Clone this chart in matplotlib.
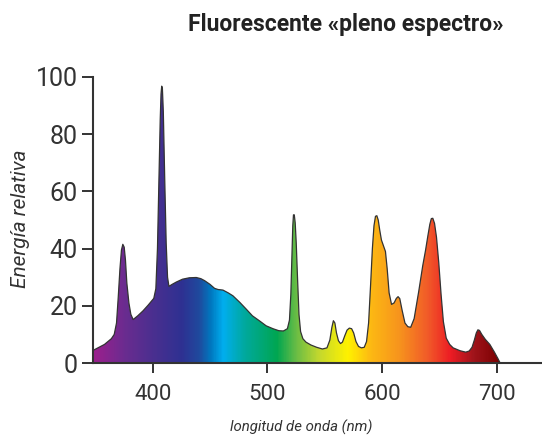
import matplotlib
matplotlib.use("Agg")
import matplotlib.pyplot as plt
import numpy as np
from matplotlib.colors import LinearSegmentedColormap

# spectrum (nm, relative energy)
wavelength = [348, 358, 364, 366.5, 368.5, 370, 371.5, 372.8, 374, 375.2, 376.3, 377.5,
              379.3, 381, 383, 387, 391.5, 396, 401, 402.8, 404.2, 405.5, 406.6, 407.3,
              407.9, 408.5, 409.3, 410.5, 411.8, 413, 414.2, 417, 420.6, 426, 432, 438,
              442, 445.3, 450, 454, 457, 461.3, 466, 470, 476, 481.7, 487, 493.3,
              499, 504.9, 510, 514, 517.5, 519.3, 520.5, 521.5, 522.2, 522.8, 523.5, 524.3,
              525.2, 526.3, 527.6, 529, 531, 533.7, 538, 543, 548, 552, 554.5, 556.3,
              557.6, 558.9, 560.3, 562, 563.8, 565.5, 567.5, 569.5, 571.5, 573.5, 575.3, 577.3,
              579.5, 582, 584.5, 586.5, 588.3, 590, 591.6, 593, 594.3, 595.5, 596.7, 598,
              599.5, 601, 603, 604.5, 606.2, 608.3, 610.5, 612.5, 614, 615.5, 617.5, 620,
              622.5, 625, 628, 632, 635.5, 638, 640, 641.7, 643, 644.3, 645.8, 647.5,
              649.5, 651.5, 653.5, 656, 659, 662, 668, 673, 676, 678.5, 680.5, 682.2,
              683.6, 685, 687, 690, 694, 698, 701, 703]
energy = [4.4, 6.5, 8.5, 10, 14, 23, 33, 39.5, 41.5, 40.5, 36, 28,
          21, 17, 15.2, 16.5, 18.2, 20.2, 22.6, 26, 40, 65, 85, 94,
          96.8, 96, 88, 65, 42, 30, 26.8, 27.5, 28.3, 29.3, 29.8, 29.9,
          29.5, 28.8, 27.5, 26.1, 25.7, 25.5, 24.5, 23.5, 21.2, 18.8, 16.5, 14.7,
          13, 12, 11.3, 11.2, 12, 15, 24, 38, 48, 51.8, 51.8, 49,
          42, 30, 17, 11, 8.5, 7.3, 6.3, 5.5, 4.9, 5.3, 8, 12.5,
          14.8, 14, 10.5, 7.8, 6.8, 7.3, 9.5, 11.5, 12.2, 12, 10.5, 7.5,
          5.8, 5.3, 5.5, 7.5, 14, 27, 40, 48, 51.3, 51.5, 50, 46.5,
          43, 41.3, 39, 33, 24.5, 20.5, 21, 22.6, 23.2, 22.5, 18.5, 14,
          12.7, 12.5, 15.5, 25, 34, 39.5, 44.5, 48.5, 50.5, 50.6, 48.8, 44,
          35, 24, 14.5, 8.7, 6.5, 5.3, 4.3, 3.8, 4.2, 5.5, 8, 10.5,
          11.6, 11.4, 10, 8.3, 6.5, 3.8, 1.6, 0]

# colour of the light along the spectrum
stop_nm = [348, 375, 400, 425, 440, 450, 461, 480, 508, 525, 545, 570,
           590, 615, 640, 660, 680, 703]
stop_colors = ["#9c1f8d", "#6a2c90", "#4a2f8f", "#2e3192", "#1f4a9e", "#0077bf",
               "#00aeef", "#00a99d", "#00a651", "#6abd45", "#c4d82e", "#fff200",
               "#fdb913", "#f7941d", "#f15a29", "#ed1c24", "#a0141b", "#7a0000"]

xticks = [400, 500, 600, 700]
yticks = [0, 20, 40, 60, 80, 100]

dark = "#333333"
xmin, xmax = 348, 739.5

fig = plt.figure(figsize=(5.42, 4.37), dpi=100)
ax = fig.add_axes([0.1716, 0.1693, 0.8284, 0.6545])

lo, hi = stop_nm[0], stop_nm[-1]
cmap = LinearSegmentedColormap.from_list(
    "spec", [((w - lo) / (hi - lo), c) for w, c in zip(stop_nm, stop_colors)])

poly = ax.fill_between(wavelength, energy, 0, color="none", lw=0)
grad = np.linspace(lo, hi, 600).reshape(1, -1)
img = ax.imshow(grad, cmap=cmap, aspect="auto", extent=[lo, hi, 0, 100],
                origin="lower", vmin=lo, vmax=hi, zorder=1)
img.set_clip_path(poly.get_paths()[0], transform=ax.transData)
ax.plot(wavelength, energy, color=dark, lw=0.9, zorder=2, solid_joinstyle="round")

ax.set_xlim(xmin, xmax)
ax.set_ylim(0, 100)
ax.set_xticks(xticks)
ax.set_yticks(yticks)

num_font = ["Roboto", "DejaVu Sans"]
for lab in ax.get_xticklabels() + ax.get_yticklabels():
    lab.set_family(num_font)
    lab.set_color(dark)
ax.tick_params(axis="x", length=7, width=1.4, color=dark, labelsize=16, pad=8)
ax.tick_params(axis="y", length=8, width=1.4, color=dark, labelsize=18, pad=3)

for side in ["top", "right"]:
    ax.spines[side].set_visible(False)
for side in ["left", "bottom"]:
    ax.spines[side].set_color(dark)
    ax.spines[side].set_linewidth(1.5)

fig.text(0.637, 0.943, "Fluorescente «pleno espectro»", ha="center", va="center",
         fontsize=16.5, fontweight="bold", color="#222222", family=["Roboto", "DejaVu Sans"])
fig.text(0.037, 0.499, "Energía relativa", rotation=90, ha="center", va="center",
         fontsize=15, style="italic", color=dark, family=["Roboto", "DejaVu Sans"])
fig.text(0.556, 0.021, "longitud de onda (nm)", ha="center", va="center",
         fontsize=10.8, style="italic", color=dark, family=["Roboto", "DejaVu Sans"])

fig.savefig("out.png", dpi=100)
